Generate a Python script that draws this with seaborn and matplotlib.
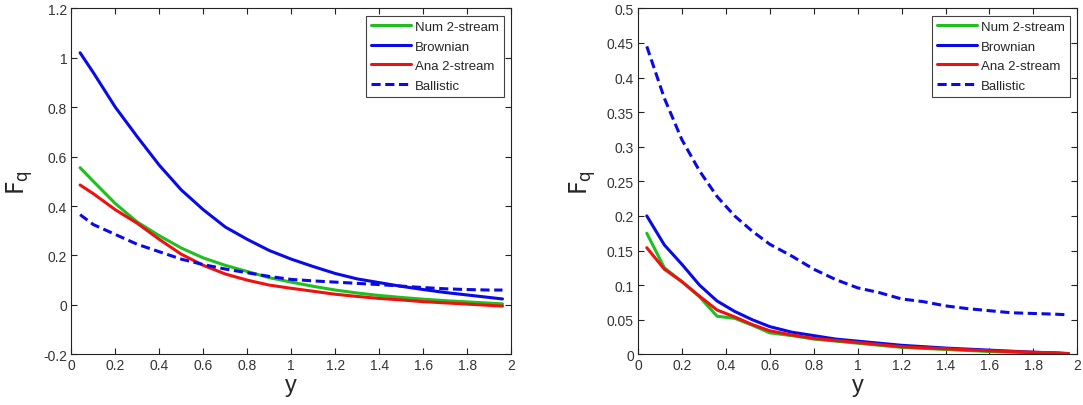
import numpy as np
import pandas as pd
import matplotlib
matplotlib.use("Agg")
import matplotlib.pyplot as plt
import seaborn as sns

# ---- data ----
x_left = [0.04, 0.1, 0.2, 0.3, 0.4, 0.5, 0.6, 0.7, 0.8, 0.9, 1.0, 1.1, 1.2, 1.3, 1.4, 1.5, 1.6, 1.7, 1.8, 1.9, 1.96]
num_left = [0.555, 0.50, 0.41, 0.335, 0.28, 0.23, 0.19, 0.16, 0.135, 0.11, 0.092, 0.075, 0.06, 0.048, 0.038, 0.03, 0.023, 0.017, 0.012, 0.007, 0.004]
brown_left = [1.02, 0.94, 0.80, 0.68, 0.565, 0.465, 0.385, 0.315, 0.265, 0.22, 0.185, 0.155, 0.127, 0.105, 0.09, 0.075, 0.062, 0.05, 0.04, 0.03, 0.024]
ana_left = [0.485, 0.45, 0.385, 0.33, 0.265, 0.205, 0.16, 0.125, 0.1, 0.08, 0.067, 0.055, 0.043, 0.034, 0.026, 0.02, 0.013, 0.008, 0.003, -0.002, -0.005]
ball_left = [0.365, 0.325, 0.285, 0.245, 0.215, 0.185, 0.163, 0.145, 0.13, 0.115, 0.103, 0.097, 0.092, 0.087, 0.082, 0.076, 0.07, 0.065, 0.062, 0.06, 0.06]

x_right = [0.04, 0.12, 0.2, 0.28, 0.36, 0.44, 0.52, 0.6, 0.7, 0.8, 0.9, 1.0, 1.1, 1.2, 1.3, 1.4, 1.5, 1.6, 1.7, 1.8, 1.9, 1.96]
num_right = [0.175, 0.125, 0.105, 0.083, 0.055, 0.052, 0.042, 0.031, 0.027, 0.022, 0.019, 0.016, 0.013, 0.01, 0.0085, 0.007, 0.0055, 0.004, 0.003, 0.002, 0.0015, 0.001]
brown_right = [0.2, 0.158, 0.13, 0.1, 0.077, 0.062, 0.05, 0.04, 0.032, 0.027, 0.022, 0.019, 0.016, 0.013, 0.011, 0.009, 0.0075, 0.006, 0.0045, 0.003, 0.002, 0.001]
ana_right = [0.154, 0.123, 0.105, 0.084, 0.064, 0.054, 0.043, 0.034, 0.028, 0.023, 0.02, 0.017, 0.014, 0.011, 0.0095, 0.008, 0.0065, 0.005, 0.004, 0.003, 0.002, 0.001]
ball_right = [0.445, 0.37, 0.31, 0.265, 0.228, 0.2, 0.178, 0.159, 0.142, 0.123, 0.108, 0.096, 0.089, 0.080, 0.076, 0.070, 0.066, 0.063, 0.060, 0.059, 0.058, 0.057]

labels = ["Num 2-stream", "Brownian", "Ana 2-stream", "Ballistic"]
xticks = [0, 0.2, 0.4, 0.6, 0.8, 1, 1.2, 1.4, 1.6, 1.8, 2]
xtick_labels = ["0", "0.2", "0.4", "0.6", "0.8", "1", "1.2", "1.4", "1.6", "1.8", "2"]
yticks_left = [-0.2, 0, 0.2, 0.4, 0.6, 0.8, 1, 1.2]
ytick_labels_left = ["-0.2", "0", "0.2", "0.4", "0.6", "0.8", "1", "1.2"]
yticks_right = [0, 0.05, 0.1, 0.15, 0.2, 0.25, 0.3, 0.35, 0.4, 0.45, 0.5]
ytick_labels_right = ["0", "0.05", "0.1", "0.15", "0.2", "0.25", "0.3", "0.35", "0.4", "0.45", "0.5"]


def make_df(x, series):
    frames = []
    for lab, vals in zip(labels, series):
        frames.append(pd.DataFrame({"y": x, "F": vals, "series": lab}))
    return pd.concat(frames, ignore_index=True)


df_left = make_df(x_left, [num_left, brown_left, ana_left, ball_left])
df_right = make_df(x_right, [num_right, brown_right, ana_right, ball_right])

sns.set_style("ticks")
plt.rcParams["font.family"] = ["Liberation Sans", "DejaVu Sans"]

palette = {"Num 2-stream": "#1fbf1f", "Brownian": "#0a0ae6",
           "Ana 2-stream": "#ee1111", "Ballistic": "#0a0ae6"}
dashes = {"Num 2-stream": "", "Brownian": "", "Ana 2-stream": "", "Ballistic": (3, 1.5)}

W, H = 1083, 406
fig = plt.figure(figsize=(W / 100, H / 100), dpi=100)
top, bottom = 9.3, 355.3
ax1 = fig.add_axes([71.3 / W, 1 - bottom / H, (511.3 - 71.3) / W, (bottom - top) / H])
ax2 = fig.add_axes([638 / W, 1 - bottom / H, (1077.3 - 638) / W, (bottom - top) / H])

tick_color = "#333333"
for ax, df, yt, ytl, ylim in [
    (ax1, df_left, yticks_left, ytick_labels_left, (-0.2, 1.2)),
    (ax2, df_right, yticks_right, ytick_labels_right, (0, 0.5)),
]:
    sns.lineplot(data=df, x="y", y="F", hue="series", style="series",
                 palette=palette, dashes=dashes, hue_order=labels, style_order=labels,
                 linewidth=2.2, ax=ax, legend=True, estimator=None, sort=False)
    ax.set_xlim(0, 2)
    ax.set_ylim(*ylim)
    ax.set_xticks(xticks)
    ax.set_xticklabels(xtick_labels)
    ax.set_yticks(yt)
    ax.set_yticklabels(ytl)
    ax.tick_params(direction="in", top=True, right=True, length=4, width=0.8,
                   labelsize=10, colors="#222222", labelcolor=tick_color, pad=3)
    for s in ax.spines.values():
        s.set_visible(True)
        s.set_color("#222222")
        s.set_linewidth(0.8)
    ax.set_xlabel("y", fontsize=17, labelpad=1)
    ax.set_ylabel(r"$\mathrm{F_q}$", fontsize=17, labelpad=6)
    handles, labs = ax.get_legend_handles_labels()
    leg = ax.legend(handles, labs, loc="upper right", fontsize=9.5, frameon=True,
                    fancybox=False, edgecolor="#111111", borderaxespad=0.55,
                    handlelength=3.0, handletextpad=0.3, labelspacing=0.55,
                    borderpad=0.4)
    leg.get_frame().set_linewidth(0.8)
    for line in leg.get_lines():
        line.set_linewidth(2.2)

fig.savefig("out.png", dpi=100)
